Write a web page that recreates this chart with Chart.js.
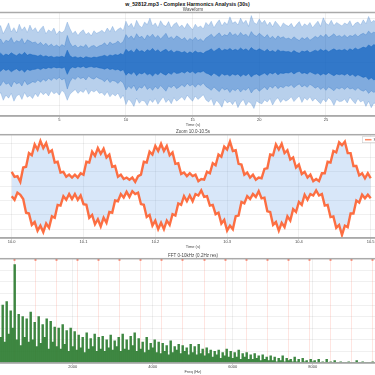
<!DOCTYPE html>
<html>
<head>
<meta charset="utf-8">
<script src="https://cdn.jsdelivr.net/npm/chart.js@4.4.1/dist/chart.umd.min.js"></script>
<style>
  html, body { margin: 0; padding: 0; background: #fff; overflow: hidden; width: 375px; height: 375px; }
  #suptitle { position: absolute; left: 0; top: 1.3px; width: 375px; text-align: center;
    font: bold 5.2px Arial, "Liberation Sans", sans-serif; line-height: 6px; color: #111; }
  .panel { position: absolute; left: -20px; width: 426px; }
  #wavePanel { top: 0; height: 127px; }
  #zoomPanel { top: 129.3px; height: 120px; }
  #fftPanel { top: 252.6px; height: 121px; }
</style>
</head>
<body>
<div id="suptitle">w_52812.mp3 - Complex Harmonics Analysis (30s)</div>
<div class="panel" id="wavePanel"><canvas id="waveChart"></canvas></div>
<div class="panel" id="zoomPanel"><canvas id="zoomChart"></canvas></div>
<div class="panel" id="fftPanel"><canvas id="fftChart"></canvas></div>
<script>
// waveform envelopes, one value every 0.2 s from 0.4 s
const waveStart = 0.4, waveStep = 0.2;
const waveOuterTop = [
  0.72, 0.85, 0.66, 0.78, 0.91, 0.7, 0.8, 0.68, 0.88, 0.74, 0.82, 0.69, 0.86, 0.73,
  0.8, 0.68, 0.77, 0.84, 0.66, 0.75, 0.7, 0.79, 0.64, 0.72, 0.68, 0.74,
  0.93, 0.78,
  0.66, 0.72, 0.62, 0.7, 0.75, 0.64, 0.69, 0.61, 0.73, 0.67, 0.7,
  0.74, 0.68, 0.79, 0.71, 0.83, 0.7, 0.76, 0.8, 0.73,
  0.95, 0.82, 0.9, 0.78, 0.97, 0.85, 0.8, 0.93, 0.87, 1.02, 0.84,
  0.91, 0.8, 0.96, 0.86, 0.83, 0.94, 0.79, 0.88, 0.92, 0.81,
  0.86, 0.78, 0.9, 0.82, 0.75, 0.88, 0.8, 0.84, 0.77, 0.92,
  0.85, 0.95, 0.8, 0.9, 0.98, 0.84, 0.93, 0.87, 1.05, 0.9,
  0.94, 0.86, 1.02, 0.9, 0.97, 0.83, 1.08, 0.92, 0.88, 1.0,
  0.9, 0.97, 0.85, 0.93, 0.82, 0.95, 0.88, 0.8, 0.91, 0.86,
  0.83, 0.9, 0.79, 0.87, 0.94, 0.81, 0.89, 0.84, 0.92, 0.8,
  0.88, 0.95, 0.83, 1.03, 0.9, 0.86, 0.97, 0.85, 0.92, 0.88,
  0.84, 0.91, 0.87, 0.96, 0.82, 0.9, 0.93, 0.86, 0.98, 0.89,
  1.06, 0.92, 0.97, 0.9
];
const waveOuterBottom = [
  0.8, 0.7, 0.88, 0.76, 0.83, 0.72, 0.9, 0.78, 0.74, 0.86, 0.7, 0.81, 0.77, 0.84,
  0.72, 0.8, 0.68, 0.75, 0.7, 0.78, 0.66, 0.73, 0.69, 0.76, 0.65, 0.71,
  0.88, 0.74,
  0.68, 0.63, 0.72, 0.66, 0.7, 0.61, 0.74, 0.65, 0.69, 0.64, 0.72,
  0.7, 0.77, 0.68, 0.8, 0.73, 0.78, 0.71, 0.84, 0.76,
  0.98, 0.85, 0.92, 1.02, 0.83, 0.95, 0.88, 0.9, 1.0, 0.86, 0.93,
  0.84, 0.97, 0.88, 0.8, 0.93, 0.86, 0.96, 0.82, 0.9, 0.85,
  0.8, 0.88, 0.76, 0.84, 0.9, 0.78, 0.86, 0.81, 0.75, 0.87,
  0.92, 0.84, 1.0, 0.88, 0.95, 1.04, 0.86, 0.94, 0.9, 0.98,
  0.88, 1.05, 0.93, 0.86, 1.0, 0.91, 0.96, 1.07, 0.89, 0.94,
  0.96, 0.87, 0.92, 0.84, 0.99, 0.88, 0.82, 0.93, 0.85, 0.9,
  0.86, 0.8, 0.91, 0.84, 0.78, 0.93, 0.82, 0.88, 0.8, 0.9,
  0.83, 0.9, 0.96, 0.85, 0.92, 0.82, 0.88, 1.0, 0.86, 0.91,
  0.9, 0.85, 0.94, 0.81, 0.89, 0.96, 0.84, 0.92, 0.88, 1.02,
  0.9, 1.05, 0.94, 0.98
];
const waveMid = [
  0.46, 0.54, 0.43, 0.51, 0.48, 0.57, 0.44, 0.5, 0.47, 0.55, 0.42, 0.52, 0.49, 0.45,
  0.47, 0.41, 0.46, 0.39, 0.44, 0.37, 0.42, 0.36, 0.4, 0.35, 0.41, 0.37,
  0.62, 0.45,
  0.36, 0.4, 0.33, 0.38, 0.35, 0.41, 0.32, 0.37, 0.39, 0.34, 0.38,
  0.4, 0.45, 0.38, 0.47, 0.42, 0.44, 0.49, 0.43, 0.48,
  0.64, 0.55, 0.61, 0.53, 0.66, 0.57, 0.6, 0.52, 0.63, 0.58, 0.65,
  0.56, 0.62, 0.54, 0.6, 0.67, 0.55, 0.59, 0.53, 0.61, 0.57,
  0.52, 0.57, 0.49, 0.55, 0.51, 0.58, 0.5, 0.54, 0.48, 0.56,
  0.6, 0.65, 0.57, 0.63, 0.68, 0.59, 0.64, 0.61, 0.7, 0.62,
  0.66, 0.6, 0.69, 0.62, 0.65, 0.58, 0.71, 0.63, 0.6, 0.67,
  0.62, 0.57, 0.64, 0.55, 0.6, 0.53, 0.61, 0.56, 0.59, 0.54,
  0.56, 0.52, 0.59, 0.54, 0.5, 0.57, 0.53, 0.58, 0.51, 0.55,
  0.6, 0.56, 0.63, 0.58, 0.65, 0.57, 0.61, 0.66, 0.59, 0.62,
  0.58, 0.63, 0.57, 0.62, 0.6, 0.65, 0.59, 0.64, 0.67, 0.63,
  0.72, 0.66, 0.7, 0.65
];
const waveCore = [
  0.17, 0.21, 0.15, 0.19, 0.16, 0.22, 0.18, 0.15, 0.2, 0.17, 0.23, 0.16, 0.19, 0.17,
  0.16, 0.14, 0.17, 0.13, 0.15, 0.12, 0.14, 0.11, 0.13, 0.12, 0.14, 0.11,
  0.28, 0.15,
  0.11, 0.13, 0.1, 0.12, 0.09, 0.13, 0.11, 0.1, 0.12, 0.11, 0.13,
  0.14, 0.16, 0.13, 0.17, 0.15, 0.18, 0.16, 0.2, 0.17,
  0.3, 0.24, 0.28, 0.22, 0.31, 0.25, 0.27, 0.23, 0.29, 0.26, 0.32,
  0.25, 0.29, 0.23, 0.27, 0.3, 0.24, 0.28, 0.22, 0.26, 0.25,
  0.22, 0.25, 0.2, 0.24, 0.21, 0.26, 0.22, 0.23, 0.2, 0.25,
  0.27, 0.31, 0.25, 0.29, 0.33, 0.26, 0.3, 0.28, 0.32, 0.27,
  0.3, 0.27, 0.33, 0.28, 0.31, 0.26, 0.34, 0.29, 0.27, 0.31,
  0.28, 0.25, 0.3, 0.24, 0.27, 0.23, 0.29, 0.25, 0.26, 0.24,
  0.25, 0.22, 0.27, 0.23, 0.21, 0.26, 0.24, 0.27, 0.22, 0.25,
  0.28, 0.25, 0.3, 0.26, 0.29, 0.24, 0.28, 0.31, 0.27, 0.29,
  0.27, 0.3, 0.26, 0.31, 0.28, 0.33, 0.29, 0.32, 0.35, 0.33,
  0.4, 0.36, 0.41, 0.37
];
const waveTicks = [5, 10, 15, 20, 25];

// zoom 10.0-10.5 s, signal extremes every 4 ms
const zoomStart = 10.0, zoomStep = 0.004;
const zoomUpper = [
  1.0, 0.65, 0.7, 0.3, 1.3, 1.35, 2.3, 2.15, 2.9, 2.55, 3.15, 2.65, 3.0, 2.35, 2.5, 1.65,
  1.7, 0.95, 1.0, 0.65, 0.8, 0.6, 0.8, 0.6, 0.9, 0.8, 1.7, 1.65, 2.4, 2.1, 2.65, 2.25,
  2.6, 2.0, 2.2, 1.35, 1.4, 0.65, 0.8, 0.5, 0.6, 0.45, 0.6, 0.3, 0.7, 0.8, 1.7, 1.65,
  2.4, 2.2, 2.8, 2.45, 2.95, 2.45, 2.8, 2.15, 2.35, 1.55, 1.6, 0.85, 0.95, 0.7, 0.9, 0.7,
  0.8, 0.35, 0.5, 0.45, 1.0, 0.9, 1.6, 1.45, 2.2, 2.05, 2.75, 2.55, 3.1, 2.45, 2.5, 1.55,
  1.5, 0.8, 0.95, 0.6, 0.8, 0.45, 0.6, 0.55, 1.2, 1.25, 2.2, 2.15, 2.9, 2.55, 2.95, 2.3,
  2.5, 1.85, 2.0, 1.3, 1.5, 0.85, 1.0, 0.6, 0.8, 0.35, 0.5, 0.35, 0.9, 0.9, 1.7, 1.65,
  2.45, 2.35, 3.05, 2.85, 3.1, 2.3, 2.3, 1.4, 1.4, 0.75, 0.9, 0.55, 0.9, 0.55
];
const zoomLower = [
  -0.7, -0.95, -0.45, -0.6, -0.9, -1.85, -1.9, -2.7, -2.5, -3.1, -2.75, -3.2, -2.6, -2.9, -2.1, -2.2,
  -1.3, -1.35, -0.7, -0.95, -0.55, -0.9, -0.55, -0.95, -0.65, -1.25, -1.3, -2.2, -2.0, -2.65, -2.3, -2.8,
  -2.2, -2.55, -1.8, -1.85, -1.0, -1.05, -0.55, -0.8, -0.4, -0.75, -0.35, -0.55, -0.45, -1.25, -1.3, -2.15,
  -2.0, -2.75, -2.4, -3.0, -2.55, -3.0, -2.4, -2.7, -1.95, -2.05, -1.2, -1.3, -0.7, -1.05, -0.65, -1.05,
  -0.55, -0.65, -0.3, -0.75, -0.7, -1.35, -1.3, -1.95, -1.85, -2.6, -2.35, -3.1, -2.75, -3.0, -2.1, -2.05,
  -1.1, -1.2, -0.7, -0.9, -0.55, -0.75, -0.35, -0.85, -0.8, -1.75, -1.8, -2.7, -2.5, -3.1, -2.55, -2.85,
  -2.1, -2.4, -1.6, -1.8, -1.1, -1.3, -0.6, -0.95, -0.55, -0.65, -0.3, -0.65, -0.55, -1.35, -1.3, -2.15,
  -2.1, -2.9, -2.7, -3.4, -2.75, -2.85, -1.9, -1.9, -1.0, -1.15, -0.6, -0.85, -0.6, -0.85
];
const zoomTicks = [10.0, 10.1, 10.2, 10.3, 10.4, 10.5];

// spectrum magnitude every 50 Hz from 200 Hz
const fftStart = 200, fftStep = 50;
const fftMag = [
  22, 50, 18, 53, 25, 45, 30,
  85,
  20, 42, 15, 40, 22, 38, 18, 44,
  20, 35, 14, 40, 17, 33, 22, 38, 12, 36, 18, 31,
  14, 30, 12, 33, 16, 28, 10, 30, 14, 27,
  11, 24, 13, 22, 9, 26, 12, 21, 14, 25, 10, 22,
  12, 23, 10, 20, 13, 24, 11, 19, 14, 22, 10, 25, 12, 20, 11, 23, 15, 26,
  10, 21, 12, 18, 9, 22, 11, 17, 13, 20, 9, 18,
  8, 17, 10, 15, 7, 19, 9, 14, 11, 16, 8, 15, 10, 13, 7, 16,
  9, 14, 7, 16, 8, 12, 6, 13, 8, 11,
  5, 10, 7, 11, 4, 9, 6, 12, 5, 10,
  4, 9, 5, 11, 3, 8, 5, 9, 3, 7,
  3, 8, 4, 6, 2, 7, 3, 5, 2, 6,
  2, 5, 1, 4, 2, 6, 1, 4, 2, 3, 1, 5,
  1, 3, 0, 4, 1, 2, 0, 3, 1, 2, 0, 3,
  0, 1, 0, 3, 0, 1, 0, 2, 0, 0, 1, 0,
  0, 0, 1, 0, 0, 0, 2, 0, 0, 1, 0, 0, 0, 0, 1, 0, 0
];
const fftHarmonics = [527, 1054, 1581, 2108, 2635, 3162, 3689, 4216, 4743, 5270, 5797, 6324, 6851, 7378, 7905, 8432, 8959, 9486];
const fftTicks = [2000, 4000, 6000, 8000];

const GRID = 'rgba(0,0,0,0.06)';
Chart.defaults.font.family = 'Arial, "Liberation Sans", sans-serif';
Chart.defaults.color = '#444';
Chart.defaults.animation = false;
Chart.defaults.elements.point.radius = 0;
Chart.defaults.elements.line.tension = 0;

function series(start, step, values, sign = 1) {
  return values.map((v, i) => ({ x: start + i * step, y: sign * v }));
}

function xAxis(min, max, ticks, title, fmt) {
  return {
    type: 'linear',
    min,
    max,
    offset: false,
    afterBuildTicks: (s) => { s.ticks = ticks.map((v) => ({ value: v })); },
    ticks: { font: { size: 4 }, padding: 0, maxRotation: 0, autoSkip: false, callback: fmt },
    grid: { color: GRID, tickLength: 1.5, tickColor: '#999', offset: false },
    border: { color: '#aaa', width: 1.5 },
    title: { display: true, text: title, font: { size: 4 }, padding: 0 },
  };
}

function yAxis(min, max, step) {
  return {
    type: 'linear',
    min,
    max,
    ticks: { display: false, stepSize: step, includeBounds: false },
    grid: { color: GRID, drawTicks: false },
    border: { display: false },
    afterFit: (s) => { s.width = 0; },
  };
}

function panelTitle(text, top) {
  return { display: true, text, font: { size: 4.5, weight: 'normal' }, color: '#444', padding: { top, bottom: 0.3 } };
}

// grey frame round each plot area
const framePlugin = {
  id: 'frame',
  afterDatasetsDraw(chart) {
    const { ctx, chartArea: a } = chart;
    ctx.save();
    ctx.strokeStyle = '#aaa';
    ctx.lineWidth = 1.5;
    ctx.strokeRect(a.left, a.top, a.right - a.left, a.bottom - a.top);
    ctx.restore();
  },
};

// harmonic marker lines on the spectrum
const harmonicPlugin = {
  id: 'harmonics',
  beforeDatasetsDraw(chart) {
    const { ctx, chartArea: a, scales: { x } } = chart;
    ctx.save();
    fftHarmonics.forEach((f) => {
      const px = Math.round(x.getPixelForValue(f)) + 0.5;
      ctx.strokeStyle = 'rgba(255,110,90,0.18)';
      ctx.lineWidth = 1;
      ctx.beginPath();
      ctx.moveTo(px, a.top);
      ctx.lineTo(px, a.bottom);
      ctx.stroke();
      ctx.fillStyle = 'rgba(240,90,60,0.8)';
      ctx.fillRect(px - 1, a.top, 2, 2);
    });
    ctx.restore();
  },
};

// legend box sitting inside the zoom plot, top right
const zoomLegendPlugin = {
  id: 'zoomLegend',
  afterDraw(chart) {
    const { ctx, chartArea: a } = chart;
    const x0 = a.left + 382.5, y0 = a.top + 2;
    ctx.save();
    ctx.fillStyle = 'rgba(255,255,255,0.9)';
    ctx.strokeStyle = '#ccc';
    ctx.lineWidth = 0.6;
    ctx.fillRect(x0, y0, 34, 6);
    ctx.strokeRect(x0, y0, 34, 6);
    ctx.strokeStyle = 'rgba(255,87,34,0.7)';
    ctx.lineWidth = 1.5;
    ctx.beginPath();
    ctx.moveTo(x0 + 2.5, y0 + 3);
    ctx.lineTo(x0 + 9, y0 + 3);
    ctx.stroke();
    ctx.fillStyle = '#444';
    ctx.font = '4px Arial';
    ctx.textBaseline = 'middle';
    ctx.fillText('Signal', x0 + 11, y0 + 3.2);
    ctx.restore();
  },
};

const BLUE = (a) => `rgba(21,101,192,${a})`;

new Chart(document.getElementById('waveChart'), {
  type: 'line',
  data: {
    datasets: [
      { data: series(waveStart, waveStep, waveCore), borderColor: BLUE(0.6), borderWidth: 0.8, fill: false },
      { data: series(waveStart, waveStep, waveCore, -1), borderColor: BLUE(0.6), borderWidth: 0.8, backgroundColor: BLUE(0.72), fill: '-1' },
      { data: series(waveStart, waveStep, waveMid), borderColor: BLUE(0.3), borderWidth: 0.8, fill: false },
      { data: series(waveStart, waveStep, waveMid, -1), borderColor: BLUE(0.3), borderWidth: 0.8, backgroundColor: BLUE(0.34), fill: '-1' },
      { data: series(waveStart, waveStep, waveOuterTop), borderColor: BLUE(0.18), borderWidth: 1, fill: false },
      { data: series(waveStart, waveStep, waveOuterBottom, -1), borderColor: BLUE(0.18), borderWidth: 1, backgroundColor: BLUE(0.3), fill: '-1' },
    ],
  },
  options: {
    responsive: true,
    maintainAspectRatio: false,
    plugins: { legend: { display: false }, tooltip: { enabled: false }, title: panelTitle('Waveform', 6.8) },
    scales: {
      x: xAxis(-0.945, 31.005, waveTicks, 'Time (s)', (v) => String(v)),
      y: yAxis(-1.24, 1.15, 1),
    },
  },
  plugins: [framePlugin],
});

new Chart(document.getElementById('zoomChart'), {
  type: 'line',
  data: {
    datasets: [
      { label: 'Signal', data: series(zoomStart, zoomStep, zoomUpper), borderColor: 'rgba(255,87,34,0.85)', borderWidth: 2.4, fill: false },
      { label: 'Signal', data: series(zoomStart, zoomStep, zoomLower), borderColor: 'rgba(255,87,34,0.85)', borderWidth: 2.4, backgroundColor: 'rgba(100,160,230,0.25)', fill: '-1' },
    ],
  },
  options: {
    responsive: true,
    maintainAspectRatio: false,
    plugins: { legend: { display: false }, tooltip: { enabled: false }, title: panelTitle('Zoom 10.0-10.5s', 0) },
    scales: {
      x: xAxis(9.95585, 10.54916, zoomTicks, 'Time (s)', (v) => v.toFixed(1)),
      y: yAxis(-3.6, 3.58, 1),
    },
  },
  plugins: [framePlugin, zoomLegendPlugin],
});

new Chart(document.getElementById('fftChart'), {
  type: 'bar',
  data: {
    datasets: [
      { data: series(fftStart, fftStep, fftMag), backgroundColor: 'rgba(46,125,50,0.92)', barThickness: 1.8, borderWidth: 0 },
    ],
  },
  options: {
    responsive: true,
    maintainAspectRatio: false,
    plugins: { legend: { display: false }, tooltip: { enabled: false }, title: panelTitle('FFT 0-10kHz (0.2Hz res)', 0) },
    scales: {
      x: xAxis(-317.5, 10332.5, fftTicks, 'Freq (Hz)', (v) => String(v)),
      y: yAxis(0, 90, 10),
    },
  },
  plugins: [harmonicPlugin, framePlugin],
});
</script>
</body>
</html>
